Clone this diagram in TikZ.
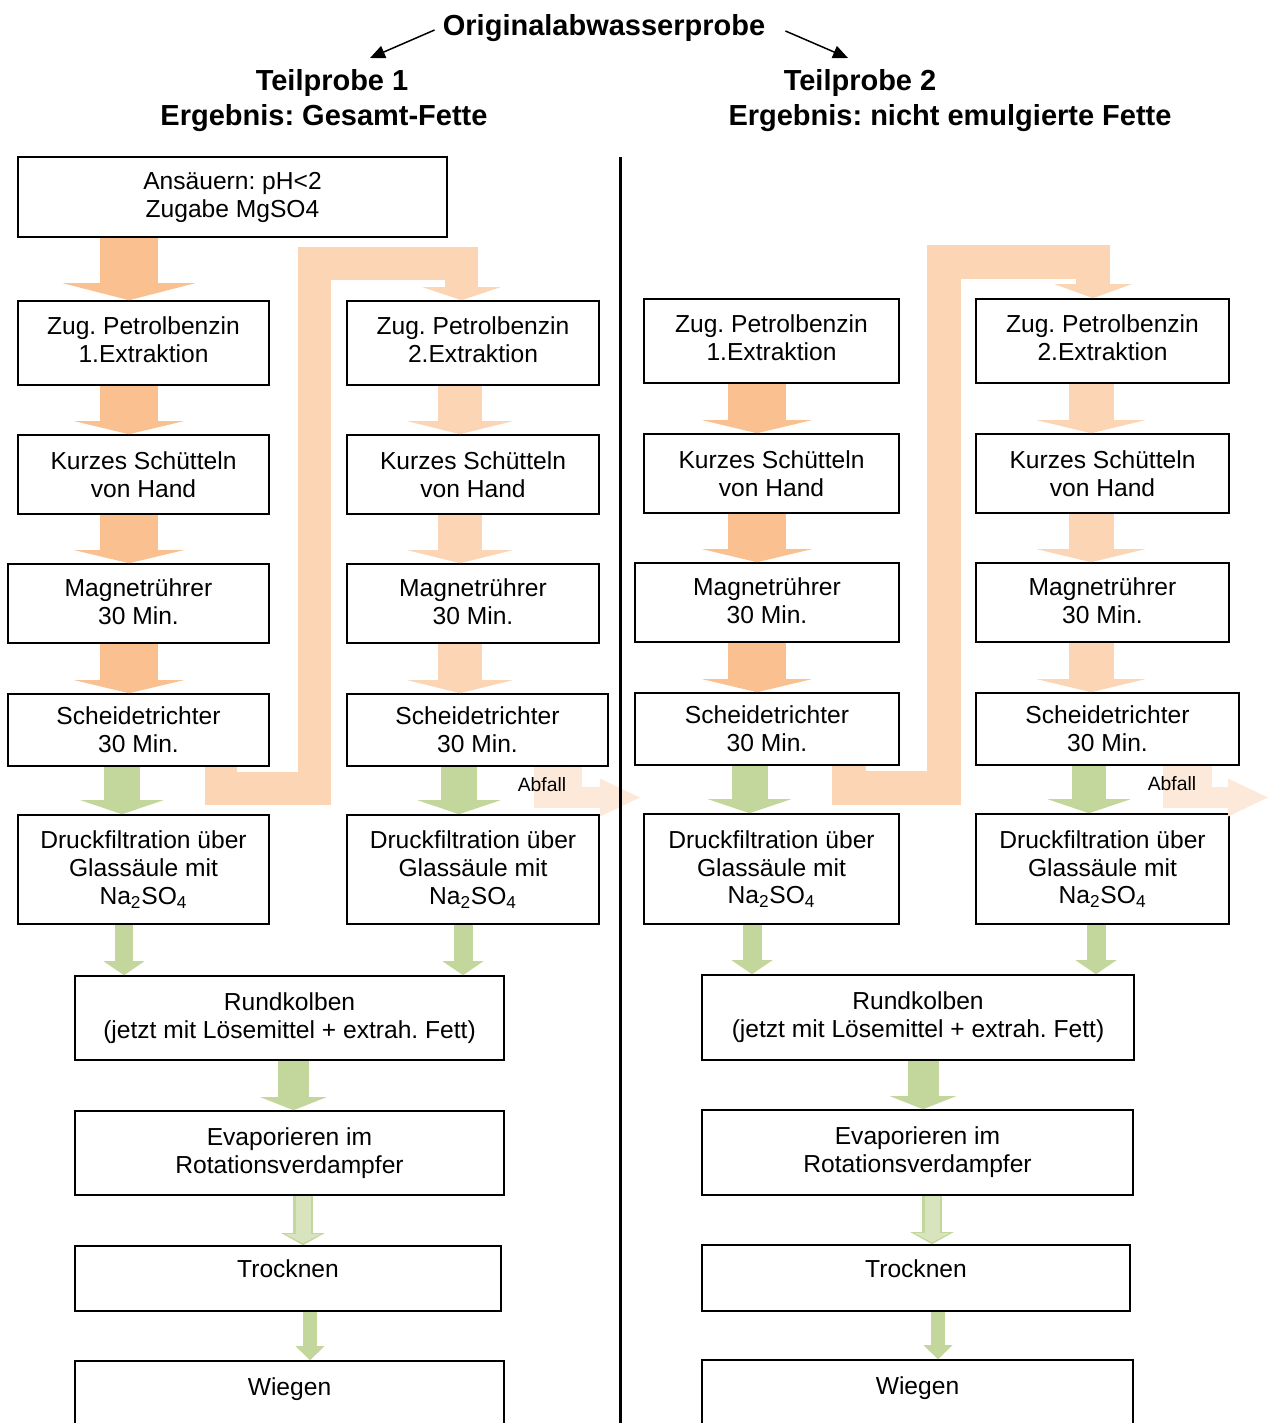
\documentclass[tikz,border=0pt]{standalone}
\usepackage{fontspec}
\setmainfont{Liberation Sans}
\frenchspacing
\usepackage{tikz}
\usetikzlibrary{arrows.meta,calc}
\definecolor{orDark}{HTML}{FAC090}
\definecolor{orLight}{HTML}{FCD5B5}
\definecolor{orPale}{HTML}{FDE9D9}
\definecolor{grMid}{HTML}{C3D69B}
\definecolor{grLight}{HTML}{D7E4BD}
\newcommand{\boxfont}{\fontsize{14}{15.9}\selectfont}
\newcommand{\titlefont}{\fontsize{16.5}{19.8}\selectfont\bfseries}
\tikzset{
  stepbox/.style={draw=black,line width=0.9pt,fill=white,align=center,inner sep=0pt,font=\boxfont,minimum width=5.04cm,minimum height=1.68cm},
  titletext/.style={font=\titlefont,inner sep=0pt},
  pointer/.style={-{Triangle[length=0.3cm,width=0.26cm]},line width=0.85pt,draw=black},
  fat/.style n args={3}{line width=#1cm,-{Triangle[width=#2cm,length=#3cm,line width=0pt]}},
  extA/.style={draw=orDark,fat={1.16}{2.18}{0.26}},
  extB/.style={draw=orLight,fat={0.88}{2.10}{0.26}},
  recyc/.style={draw=orLight,fat={0.66}{1.56}{0.26}},
  waste/.style={draw=orPale,fat={0.42}{0.76}{0.8}},
  filtflow/.style={draw=grMid,fat={0.72}{1.66}{0.28}},
  joinflow/.style={draw=grMid,fat={0.38}{0.82}{0.28}},
  flaskflow/.style={draw=grMid,fat={0.62}{1.32}{0.26}},
  evapout/.style={draw=grMid,fat={0.40}{0.86}{0.24}},
  evapin/.style={draw=grLight,fat={0.30}{0.70}{0.18},shorten >=0.04cm},
  dryflow/.style={draw=grMid,fat={0.28}{0.58}{0.28}}
}
\begin{document}
\begin{tikzpicture}[x=0.02cm,y=-0.02cm]
\useasboundingbox (0,0) rectangle (1274,1423);
\clip (0,0) rectangle (1274,1423);
% Kopf
\node[titletext] (orig) at (604,28) {Originalabwasserprobe};
\node[titletext] (tp1) at (332,83) {Teilprobe 1};
\node[titletext] (erg1) at (324,118) {Ergebnis: Gesamt-Fette};
\node[titletext] (tp2) at (860,83) {Teilprobe 2};
\node[titletext] (erg2) at (950,118) {Ergebnis: nicht emulgierte Fette};
\coordinate (in1) at (370,58);
\coordinate (in2) at (848,58);
\draw[pointer] ([xshift=-0.16cm,yshift=-0.04cm]orig.west) -- (in1);
\draw[pointer] ([xshift=0.4cm,yshift=-0.06cm]orig.east) -- (in2);

% Teilprobe 1
\node[stepbox,minimum width=8.58cm,minimum height=1.6cm] (ans) at (232.5,197) {Ansäuern: pH<2\\Zugabe MgSO4};
\node[stepbox,minimum width=5.02cm,text depth=3.4pt] (z1L) at (143.5,343) {Zug. Petrolbenzin\\1.Extraktion};
\node[stepbox,text depth=3.4pt] (z2L) at (473,343) {Zug. Petrolbenzin\\2.Extraktion};
\node[stepbox,minimum width=5.02cm,minimum height=1.58cm] (k1L) at (143.5,474.5) {Kurzes Schütteln\\von Hand};
\node[stepbox,minimum height=1.58cm] (k2L) at (473,474.5) {Kurzes Schütteln\\von Hand};
\node[stepbox,minimum width=5.22cm,minimum height=1.58cm,text depth=2.3pt] (m1L) at (138.5,603.5) {Magnetrührer\\30 Min.};
\node[stepbox,minimum height=1.58cm,text depth=2.3pt] (m2L) at (473,603.5) {Magnetrührer\\30 Min.};
\node[stepbox,minimum width=5.22cm,minimum height=1.44cm] (s1L) at (138.5,730) {Scheidetrichter\\30 Min.};
\node[stepbox,minimum width=5.22cm,minimum height=1.44cm] (s2L) at (477.5,730) {Scheidetrichter\\30 Min.};
\node[stepbox,minimum width=5.02cm,minimum height=2.18cm] (d1L) at (143.5,869.5) {Druckfiltration über\\Glassäule mit\\Na\textsubscript{2}SO\textsubscript{4}};
\node[stepbox,minimum height=2.18cm] (d2L) at (473,869.5) {Druckfiltration über\\Glassäule mit\\Na\textsubscript{2}SO\textsubscript{4}};
\node[stepbox,minimum width=8.58cm] (rL) at (289.5,1018) {Rundkolben\\(jetzt mit Lösemittel + extrah. Fett)};
\node[stepbox,minimum width=8.58cm] (eL) at (289.5,1153) {Evaporieren im\\Rotationsverdampfer};
\node[stepbox,minimum width=8.52cm,minimum height=1.3cm,text depth=10.8pt] (tL) at (288,1278.5) {Trocknen};
\node[stepbox,minimum width=8.58cm,text depth=19.2pt] (wL) at (289.5,1403) {Wiegen};

% Teilprobe 2
\node[stepbox,minimum width=5.1cm,text depth=3.4pt] (z1R) at (771.5,341) {Zug. Petrolbenzin\\1.Extraktion};
\node[stepbox,minimum width=5.06cm,text depth=3.4pt] (z2R) at (1102.5,341) {Zug. Petrolbenzin\\2.Extraktion};
\node[stepbox,minimum width=5.1cm,minimum height=1.58cm] (k1R) at (771.5,473.5) {Kurzes Schütteln\\von Hand};
\node[stepbox,minimum width=5.06cm,minimum height=1.58cm] (k2R) at (1102.5,473.5) {Kurzes Schütteln\\von Hand};
\node[stepbox,minimum width=5.28cm,minimum height=1.58cm,text depth=2.3pt] (m1R) at (767,602.5) {Magnetrührer\\30 Min.};
\node[stepbox,minimum width=5.06cm,minimum height=1.58cm,text depth=2.3pt] (m2R) at (1102.5,602.5) {Magnetrührer\\30 Min.};
\node[stepbox,minimum width=5.28cm,minimum height=1.44cm] (s1R) at (767,729) {Scheidetrichter\\30 Min.};
\node[stepbox,minimum width=5.26cm,minimum height=1.44cm] (s2R) at (1107.5,729) {Scheidetrichter\\30 Min.};
\node[stepbox,minimum width=5.1cm,minimum height=2.2cm] (d1R) at (771.5,869) {Druckfiltration über\\Glassäule mit\\Na\textsubscript{2}SO\textsubscript{4}};
\node[stepbox,minimum width=5.06cm,minimum height=2.2cm] (d2R) at (1102.5,869) {Druckfiltration über\\Glassäule mit\\Na\textsubscript{2}SO\textsubscript{4}};
\node[stepbox,minimum width=8.64cm,minimum height=1.7cm] (rR) at (918,1017.5) {Rundkolben\\(jetzt mit Lösemittel + extrah. Fett)};
\node[stepbox,minimum width=8.62cm,minimum height=1.7cm] (eR) at (917.5,1152.5) {Evaporieren im\\Rotationsverdampfer};
\node[stepbox,minimum width=8.56cm,minimum height=1.32cm,text depth=10.8pt] (tR) at (916,1278) {Trocknen};
\node[stepbox,minimum width=8.62cm,text depth=19.2pt] (wR) at (917.5,1402) {Wiegen};

% Pfeile Teilprobe 1
\draw[extA,fat={1.16}{2.64}{0.34}] (ans.south -| 129,0) -- (z1L.north -| 129,0);
\draw[extA] (z1L.south -| 129,0) -- (k1L.north -| 129,0);
\draw[extA] (k1L.south -| 129,0) -- (m1L.north -| 129,0);
\draw[extA] (m1L.south -| 129,0) -- (s1L.north -| 129,0);
\draw[recyc] (s1L.south -| 221,0) |- (314,788.5) |- (461.5,263.5) -- (z2L.north -| 461.5,0);
\draw[extB] (z2L.south -| 460,0) -- (k2L.north -| 460,0);
\draw[extB] (k2L.south -| 460,0) -- (m2L.north -| 460,0);
\draw[extB] (m2L.south -| 460,0) -- (s2L.north -| 460,0);
\fill[orPale] (s2L.south -| 534,0) rectangle (582,808);
\coordinate (abfL) at (640,797.5);
\draw[waste] (s2L.south -| 558,0) |- (abfL);
\node[font=\fontsize{11}{13}\selectfont] (abfLtxt) at (542,785) {Abfall};
\draw[filtflow] (s1L.south -| 122,0) -- (d1L.north -| 122,0);
\draw[filtflow] (s2L.south -| 459,0) -- (d2L.north -| 459,0);
\draw[joinflow] (d1L.south -| 124,0) -- (rL.north -| 124,0);
\draw[joinflow] (d2L.south -| 463,0) -- (rL.north -| 463,0);
\draw[flaskflow] (rL.south -| 293.5,0) -- (eL.north -| 293.5,0);
\draw[evapout] (eL.south -| 303,0) -- (tL.north -| 303,0);
\draw[evapin] (eL.south -| 303,0) -- (tL.north -| 303,0);
\draw[dryflow] (tL.south -| 310,0) -- (wL.north -| 310,0);

% Pfeile Teilprobe 2
\draw[extA] (z1R.south -| 757,0) -- (k1R.north -| 757,0);
\draw[extA] (k1R.south -| 757,0) -- (m1R.north -| 757,0);
\draw[extA] (m1R.south -| 757,0) -- (s1R.north -| 757,0);
\draw[recyc,fat={0.68}{1.54}{0.28}] (s1R.south -| 849,0) |- (943.5,787.5) |- (1093,262) -- (z2R.north -| 1093,0);
\draw[extB,fat={0.9}{2.16}{0.26}] (z2R.south -| 1091,0) -- (k2R.north -| 1091,0);
\draw[extB,fat={0.9}{2.16}{0.26}] (k2R.south -| 1091,0) -- (m2R.north -| 1091,0);
\draw[extB,fat={0.9}{2.16}{0.26}] (m2R.south -| 1091,0) -- (s2R.north -| 1091,0);
\fill[orPale] (s2R.south -| 1163,0) rectangle (1212,808);
\coordinate (abfR) at (1268,797.5);
\draw[waste] (s2R.south -| 1187.5,0) |- (abfR);
\node[font=\fontsize{11}{13}\selectfont] (abfRtxt) at (1172,784) {Abfall};
\draw[filtflow] (s1R.south -| 749.5,0) -- (d1R.north -| 749.5,0);
\draw[filtflow,fat={0.68}{1.66}{0.28}] (s2R.south -| 1089,0) -- (d2R.north -| 1089,0);
\draw[joinflow] (d1R.south -| 752,0) -- (rR.north -| 752,0);
\draw[joinflow] (d2R.south -| 1096,0) -- (rR.north -| 1096,0);
\draw[flaskflow] (rR.south -| 923,0) -- (eR.north -| 923,0);
\draw[evapout] (eR.south -| 932,0) -- (tR.north -| 932,0);
\draw[evapin] (eR.south -| 932,0) -- (tR.north -| 932,0);
\draw[dryflow] (tR.south -| 938,0) -- (wR.north -| 938,0);

% Trennlinie
\draw[line width=1.7pt] (620,157) -- (620,1423);
\end{tikzpicture}
\end{document}
